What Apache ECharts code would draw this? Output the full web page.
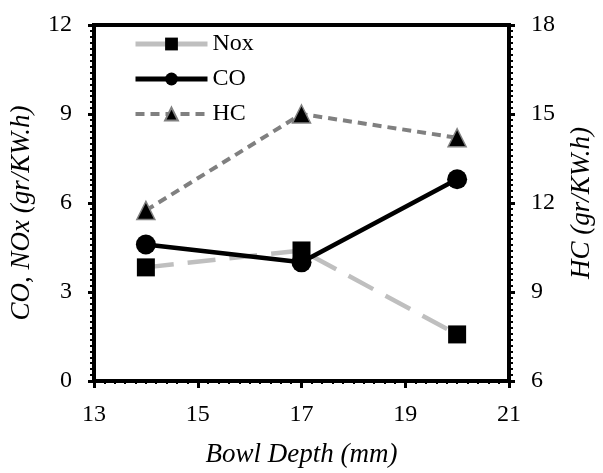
<!DOCTYPE html>
<html>
<head>
<meta charset="utf-8">
<script src="https://cdn.jsdelivr.net/npm/echarts@6/dist/echarts.min.js"></script>
<style>
  html, body { margin: 0; padding: 0; background: #fff; }
  #chart { width: 603px; height: 473px; }
</style>
</head>
<body>
<div id="chart"></div>
<script>
// Emissions versus piston bowl depth
const bowlDepth = [14, 17, 20];
const noxValues = [3.83, 4.4, 1.57];
const coValues = [4.6, 4.0, 6.8];
const hcValues = [11.75, 15.0, 14.2];

const FONT = "'Liberation Serif', 'Times New Roman', serif";

function pairs(xs, ys) {
  return xs.map((x, i) => [x, ys[i]]);
}

const chart = echarts.init(document.getElementById('chart'), null, { renderer: 'canvas' });

const yAxisCommon = {
  type: 'value',
  interval: 3,
  nameLocation: 'middle',
  nameRotate: 90,
  nameGap: 59,
  axisLine: { show: true, lineStyle: { color: '#000', width: 4 } },
  axisTick: { show: true, inside: false, length: 6, lineStyle: { color: '#000', width: 3 } },
  minorTick: { show: true, splitNumber: 15, length: 4, lineStyle: { color: '#000', width: 2 } },
  splitLine: { show: false },
  axisLabel: { fontFamily: FONT, fontSize: 24, color: '#000', margin: 22 }
};

const titleStyle = { fontFamily: FONT, fontStyle: 'italic', fontSize: 27, color: '#000' };

chart.setOption({
  animation: false,
  backgroundColor: '#fff',
  grid: {
    left: 93, right: 90, top: 25, bottom: 88,
    show: true, borderColor: '#000', borderWidth: 4, backgroundColor: 'transparent'
  },
  legend: {
    left: 128, top: 27,
    orient: 'vertical',
    itemWidth: 72, itemHeight: 16, itemGap: 11,
    textStyle: { fontFamily: FONT, fontSize: 24, color: '#000' },
    data: [
      { name: 'Nox', lineStyle: { width: 5, type: 'solid', color: '#bfbfbf' } },
      { name: 'CO', lineStyle: { width: 5, color: '#000' } },
      { name: 'HC', lineStyle: { width: 4, type: [9, 6], color: '#808080' } }
    ]
  },
  xAxis: {
    type: 'value',
    min: 13, max: 21, interval: 2,
    name: 'Bowl Depth (mm)',
    nameLocation: 'middle',
    nameGap: 60,
    nameTextStyle: titleStyle,
    axisLine: { show: true, onZero: false, lineStyle: { color: '#000', width: 4 } },
    axisTick: { show: true, length: 7, lineStyle: { color: '#000', width: 3 } },
    minorTick: { show: true, splitNumber: 10, length: 3, lineStyle: { color: '#000', width: 2 } },
    splitLine: { show: false },
    axisLabel: { fontFamily: FONT, fontSize: 24, color: '#000', margin: 22 }
  },
  yAxis: [
    Object.assign({}, yAxisCommon, {
      min: 0, max: 12, position: 'left',
      name: 'CO, NOx (gr/KW.h)',
      nameTextStyle: Object.assign({}, titleStyle, { padding: [0, 20, 0, 0] })
    }),
    Object.assign({}, yAxisCommon, {
      min: 6, max: 18, position: 'right',
      name: 'HC (gr/KW.h)',
      nameTextStyle: titleStyle
    })
  ],
  series: [
    {
      name: 'Nox', type: 'line', yAxisIndex: 0,
      data: pairs(bowlDepth, noxValues),
      symbol: 'rect', symbolSize: 18,
      itemStyle: { color: '#000' },
      lineStyle: { color: '#bfbfbf', width: 4.5, type: [28, 14] },
      z: 2
    },
    {
      name: 'CO', type: 'line', yAxisIndex: 0,
      data: pairs(bowlDepth, coValues),
      symbol: 'circle', symbolSize: 20,
      itemStyle: { color: '#000' },
      lineStyle: { color: '#000', width: 4.5 },
      z: 3
    },
    {
      name: 'HC', type: 'line', yAxisIndex: 1,
      data: pairs(bowlDepth, hcValues),
      symbol: 'triangle', symbolSize: 18,
      itemStyle: { color: '#000', borderColor: '#808080', borderWidth: 1.5 },
      lineStyle: { color: '#808080', width: 4, type: [9, 6] },
      z: 1
    }
  ]
});
</script>
</body>
</html>
